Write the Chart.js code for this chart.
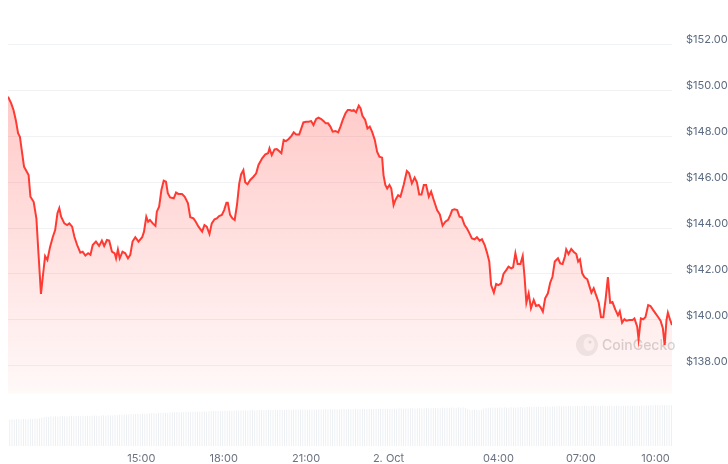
<!DOCTYPE html>
<html>
<head>
<meta charset="utf-8">
<script src="https://cdn.jsdelivr.net/npm/chart.js@4.4.1/dist/chart.umd.min.js"></script>
<style>
  html, body { margin: 0; padding: 0; background: #fff; }
  #wrap { width: 728px; height: 464px; position: relative; }
</style>
</head>
<body>
<div id="wrap"><canvas id="priceChart"></canvas></div>
<script>
    // minutes since 10:00 on 1 Oct
    const times = [9,16,21,26,31,35,39,44,48,54,58,65,71,76,81,85,90,95,101,107,112,117,121,125,132,138,143,149,154,160,
        167,172,178,184,189,194,201,208,214,219,225,230,236,242,245,249,253,259,265,271,276,281,287,294,302,306,311,315,319,325,
        331,334,339,344,349,354,358,363,371,376,381,389,395,402,407,414,419,425,433,438,443,449,454,460,465,470,476,481,486,489,
        494,499,504,509,514,518,523,527,532,538,545,551,556,564,571,577,580,585,591,596,601,606,611,616,622,628,633,638,645,649,
        654,660,665,671,676,682,687,693,698,703,708,713,718,724,730,735,740,746,751,756,760,764,769,775,779,783,789,794,799,804,
        810,815,820,826,829,833,837,842,846,851,855,861,866,873,880,885,891,897,902,907,912,917,922,928,933,938,946,952,958,964,
        970,975,979,984,990,995,1000,1006,1011,1016,1022,1028,1033,1039,1044,1050,1055,1060,1064,1070,1075,1080,1086,1091,1097,1102,1108,1112,1117,1122,
        1128,1133,1137,1141,1146,1151,1157,1162,1168,1172,1177,1182,1188,1193,1198,1203,1210,1215,1220,1225,1228,1233,1239,1244,1250,1254,1258,1263,1268,1274,
        1279,1283,1288,1293,1299,1304,1309,1314,1319,1324,1329,1335,1341,1345,1350,1355,1359,1366,1373,1377,1383,1386,1391,1396,1401,1407,1412,1418,1423,1429,
        1434,1439,1443,1447,1450,1455,1459];
    const prices = [149.71,149.42,149.13,148.70,148.12,147.97,147.39,146.67,146.52,146.30,145.36,145.14,144.42,142.75,141.13,141.88,142.78,142.61,143.19,143.62,143.91,144.64,144.86,144.49,144.20,144.13,144.20,144.06,143.62,143.26,
        142.93,142.97,142.80,142.90,142.83,143.26,143.41,143.22,143.45,143.22,143.48,143.45,142.97,142.90,142.68,143.07,142.68,142.97,142.90,142.68,142.83,143.41,143.60,143.41,143.60,143.84,144.49,144.27,144.35,144.20,
        144.09,144.71,144.93,145.65,146.06,146.01,145.51,145.33,145.29,145.54,145.48,145.48,145.36,145.07,144.47,144.42,144.27,144.06,143.84,144.13,144.06,143.74,144.20,144.38,144.42,144.52,144.57,144.78,145.10,145.10,
        144.57,144.42,144.35,145.00,145.94,146.33,146.52,145.99,145.90,146.09,146.23,146.38,146.74,147.03,147.20,147.25,147.46,147.17,147.42,147.43,147.35,147.25,147.83,147.78,147.87,148.01,148.16,148.07,148.07,148.30,
        148.59,148.62,148.62,148.65,148.48,148.74,148.80,148.74,148.65,148.55,148.55,148.41,148.19,148.22,148.16,148.41,148.70,148.99,149.13,149.13,149.09,149.13,149.03,149.32,149.20,148.88,148.70,148.33,148.41,148.19,
        147.83,147.32,147.10,147.06,146.30,145.87,145.72,145.87,145.72,145.00,145.22,145.43,145.36,145.87,146.48,146.38,145.94,146.19,145.99,145.46,145.46,145.87,145.87,145.36,145.58,145.26,144.78,144.59,144.10,144.27,
        144.35,144.57,144.78,144.81,144.78,144.49,144.46,144.13,143.99,143.80,143.55,143.51,143.60,143.45,143.51,143.26,142.93,142.54,141.52,141.19,141.57,141.52,141.59,142.00,142.17,142.32,142.25,142.29,142.90,142.43,
        142.43,142.78,141.88,140.75,141.16,140.51,140.87,140.61,140.65,140.55,140.36,140.94,141.16,141.62,141.88,142.54,142.68,142.46,142.43,142.75,143.07,142.87,143.09,142.97,142.87,142.54,142.64,142.03,141.86,141.77,
        141.45,141.19,141.38,141.09,140.75,140.12,140.12,140.90,141.86,140.75,140.78,140.46,140.20,140.38,139.88,140.03,139.97,140.00,140.00,140.07,139.71,139.16,140.07,140.03,140.12,140.65,140.61,140.43,140.29,140.12,
        139.97,139.64,138.91,140.00,140.32,140.00,139.78];
    // 5-minute volume bars (USD, millions)
    const volumes = [15.2,15.3,15.1,15.4,15.3,15.2,15.5,15.4,15.3,15.6,15.5,15.7,15.6,15.8,16.2,
        16.6,16.8,16.7,17.0,16.9,17.1,16.8,17.0,17.2,17.1,16.9,17.2,17.3,17.0,17.2,17.4,17.1,17.3,17.2,
        17.3,17.1,17.4,17.5,17.3,17.2,17.5,17.6,17.4,17.6,17.7,17.5,17.8,17.6,17.9,17.8,18.0,17.9,18.1,18.3,18.2,18.4,18.3,
        18.4,18.6,18.5,18.7,18.6,18.8,18.9,18.7,19.0,18.9,19.1,19.0,18.8,19.2,19.4,19.3,19.5,19.4,19.3,19.5,
        19.6,19.5,19.7,19.6,19.8,19.7,19.6,19.8,19.9,19.7,19.8,20.0,19.9,20.1,20.0,19.9,20.1,20.2,20.0,20.2,20.1,
        20.3,20.2,20.4,20.3,20.5,20.4,20.3,20.5,20.6,20.4,20.5,20.6,20.7,20.5,20.6,20.8,20.7,20.6,20.8,20.7,20.9,20.8,20.6,20.8,20.9,20.7,20.9,21.0,20.8,20.9,
        20.9,21.0,20.8,21.0,21.1,20.9,21.0,21.1,20.9,21.0,21.2,21.0,21.1,21.0,21.2,21.1,21.0,21.2,21.3,21.1,21.2,21.0,21.2,21.3,21.1,21.2,21.3,21.2,21.1,21.3,21.2,21.4,21.3,21.2,21.4,21.3,21.2,21.4,21.3,21.4,
        21.5,21.4,21.6,21.5,21.4,21.6,21.5,21.7,21.6,21.5,21.7,21.6,21.5,21.7,21.8,21.6,21.7,21.8,21.6,21.8,21.7,21.9,21.8,
        22.0,21.9,22.1,22.0,21.9,22.1,22.0,22.2,21.8,21.2,
        20.8,20.6,20.9,20.7,20.5,20.8,21.5,
        21.9,22.0,21.9,22.1,22.0,21.9,22.1,22.0,22.2,22.1,22.0,22.2,22.1,22.0,22.2,22.3,22.1,22.2,22.3,
        22.4,22.3,22.5,22.4,22.3,22.5,22.4,22.6,22.5,22.4,22.6,22.7,
        22.8,22.9,22.7,22.9,22.8,23.0,22.9,22.8,23.0,22.9,22.8,23.0,23.1,22.9,23.0,22.9,23.1,23.0,22.8,23.0,23.1,22.9,23.0,23.1,22.9,23.0,23.1,23.0,22.9,23.1,23.0,23.2,23.1,23.0,23.2,23.1,23.0,23.2,23.1,
        23.3,23.2,23.4,23.3,23.5,23.4,23.3,23.5,23.4,23.3,23.5,23.4];
    const tickMinutes = [300, 480, 660, 840, 1080, 1260, 1440];
    // last label is pushed inside the plot edge, like the original
    const tickLabels = ['15:00', '18:00', '21:00', '2. Oct', '04:00', '07:00', '10:00\u00a0\u00a0\u00a0\u00a0\u00a0'];
    const priceTicks = [138, 140, 142, 144, 146, 148, 150, 152];

    const fillFloor = 136.8;

    const watermark = {
        id: 'watermark',
        beforeDatasetsDraw(chart) {
            const { ctx, chartArea } = chart;
            const cx = chartArea.right - 85, cy = chartArea.top + 335;
            ctx.save();
            ctx.fillStyle = '#ededed';
            ctx.beginPath();
            ctx.arc(cx, cy, 11, 0, Math.PI * 2);
            ctx.fill();
            ctx.fillStyle = '#fafafa';
            ctx.beginPath();
            ctx.ellipse(cx + 2, cy - 1, 5.5, 7, 0, 0, Math.PI * 2);
            ctx.fill();
            ctx.fillStyle = '#e2e2e2';
            ctx.beginPath();
            ctx.arc(cx + 3, cy - 3, 1.6, 0, Math.PI * 2);
            ctx.fill();
            ctx.font = '500 14px Inter, sans-serif';
            ctx.fillStyle = '#d6d6d6';
            ctx.textBaseline = 'middle';
            ctx.fillText('CoinGecko', cx + 15, cy + 1);
            ctx.restore();
        }
    };

    const ctx = document.getElementById('priceChart').getContext('2d');
    const chart = new Chart(ctx, {
        type: 'line',
        data: {
            datasets: [{
                type: 'line',
                data: times.map((t, i) => ({ x: t, y: prices[i] })),
                xAxisID: 'x',
                yAxisID: 'y',
                borderColor: '#ff3a33',
                borderWidth: 2,
                pointRadius: 0,
                tension: 0,
                order: 1,
                fill: { value: fillFloor },
                backgroundColor: c => {
                    const a = c.chart.chartArea;
                    if (!a) return 'rgba(255,58,51,0.15)';
                    const g = c.chart.ctx.createLinearGradient(0, 95, 0, c.chart.scales.y.getPixelForValue(fillFloor));
                    g.addColorStop(0, 'rgba(255,58,51,0.27)');
                    g.addColorStop(1, 'rgba(255,58,51,0.03)');
                    return g;
                }
            }, {
                type: 'bar',
                data: volumes,
                xAxisID: 'xv',
                yAxisID: 'yv',
                backgroundColor: '#eaedf1',
                barPercentage: 0.72,
                categoryPercentage: 1,
                order: 2
            }]
        },
        options: {
            responsive: true,
            maintainAspectRatio: false,
            animation: false,
            layout: { padding: { left: 8, top: 10, right: 0, bottom: 0 } },
            plugins: { legend: { display: false }, tooltip: { enabled: false } },
            scales: {
                x: {
                    type: 'linear',
                    min: 9,
                    max: 1459,
                    grid: { display: false, drawTicks: false },
                    border: { display: false },
                    afterBuildTicks: s => { s.ticks = tickMinutes.map(v => ({ value: v })); },
                    afterFit: s => { s.height = 18; s.paddingLeft = 0; s.paddingRight = 0; },
                    ticks: {
                        padding: 6,
                        maxRotation: 0,
                        autoSkip: false,
                        color: '#6b7280',
                        font: { family: 'Inter, sans-serif', size: 11 },
                        callback: v => tickLabels[tickMinutes.indexOf(v)]
                    }
                },
                xv: {
                    type: 'category',
                    labels: volumes.map((v, i) => i),
                    display: false,
                    offset: true
                },
                y: {
                    position: 'right',
                    min: 134.52,
                    max: 153.48,
                    grid: { color: '#f1f2f4', drawTicks: false },
                    border: { display: false },
                    afterBuildTicks: s => { s.ticks = priceTicks.map(v => ({ value: v })); },
                    afterFit: s => { s.width = 56; s.paddingTop = 0; s.paddingBottom = 0; },
                    ticks: {
                        padding: 14,
                        labelOffset: -4,
                        color: '#5b6b80',
                        font: { family: 'Inter, sans-serif', size: 11 },
                        callback: v => '$' + v.toFixed(2)
                    }
                },
                yv: {
                    display: false,
                    min: 0,
                    max: 250
                }
            }
        },
        plugins: [watermark]
    });
</script>
</body>
</html>
